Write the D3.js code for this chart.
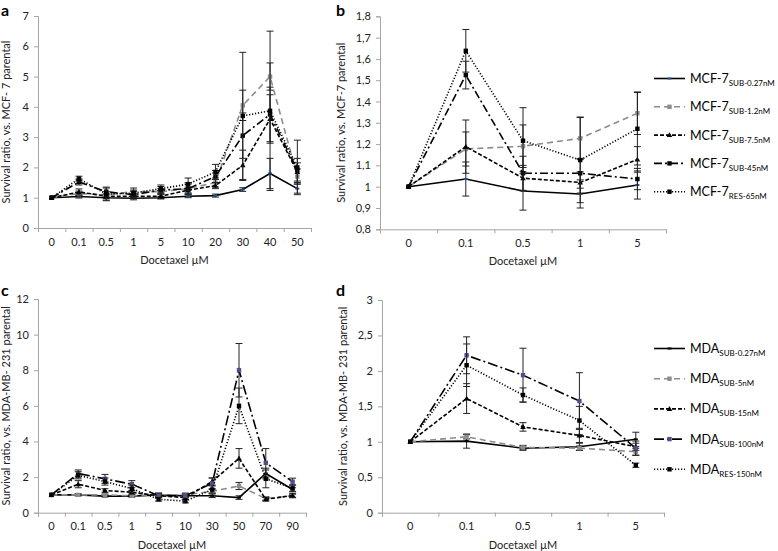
<!DOCTYPE html>
<html><head><meta charset="utf-8">
<script src="https://cdn.jsdelivr.net/npm/d3@7"></script>
<style>
body{margin:0;background:#fff;}
svg{display:block;}
text{font-family:Lato,"Open Sans",sans-serif;}
</style></head>
<body><svg id="chart" width="778" height="551"></svg>
<script>
// ---------- DATA ----------
const catsA = ["0","0.1","0.5","1","5","10","20","30","40","50"];
const catsB = ["0","0.1","0.5","1","5"];
const catsC = ["0","0.1","0.5","1","5","10","30","50","70","90"];
const catsD = ["0","0.1","0.5","1","5"];

const namesMCF = ["SUB-0.27nM","SUB-1.2nM","SUB-7.5nM","SUB-45nM","RES-65nM"];
const namesMDA = ["SUB-0.27nM","SUB-5nM","SUB-15nM","SUB-100nM","RES-150nM"];

const yTicksA = [0,1,2,3,4,5,6,7];
const yTicksB = [0.8,0.9,1.0,1.1,1.2,1.3,1.4,1.5,1.6,1.7,1.8];
const yTicksC = [0,2,4,6,8,10,12];
const yTicksD = [0,0.5,1,1.5,2,2.5,3];

// panel a (MCF-7, 0-50 µM)
const aSub027 = [1,1.04,1.0,0.98,1.0,1.05,1.07,1.27,1.8,1.3];
const aErr027 = [0,0.05,0.1,0.05,0.04,0.05,0.05,0.06,0.5,0.15];
const aSub12  = [1,1.14,1.1,1.2,1.2,1.3,1.5,4.05,5.0,1.7];
const aErr12  = [0,0.08,0.1,0.12,0.1,0.15,0.15,0.5,0.45,0.25];
const aSub75  = [1,1.19,1.05,1.05,1.05,1.25,1.4,2.07,3.6,1.85];
const aErr75  = [0,0.1,0.08,0.08,0.08,0.1,0.1,0.5,0.8,0.3];
const aSub45  = [1,1.52,1.2,1.1,1.25,1.3,1.7,3.05,3.75,1.9];
const aErr45  = [0,0.1,0.15,0.1,0.12,0.2,0.2,0.75,0.9,0.4];
const aRes65  = [1,1.63,1.12,1.15,1.3,1.45,1.85,3.7,3.87,2.0];
const aErr65  = [0,0.08,0.2,0.1,0.12,0.2,0.25,2.1,2.63,0.9];

// panel b (MCF-7, 0-5 µM)
const bSub027 = [1,1.036,0.98,0.966,1.008];
const bErr027 = [0,0.08,0.09,0.066,0.066];
const bSub12  = [1,1.177,1.19,1.227,1.345];
const bErr12  = [0,0.08,0.1,0.1,0.1];
const bSub75  = [1,1.188,1.04,1.02,1.128];
const bErr75  = [0,0.125,0.06,0.05,0.06];
const bSub45  = [1,1.524,1.063,1.063,1.036];
const bErr45  = [0,0.065,0.08,0.07,0.05];
const bRes65  = [1,1.638,1.216,1.125,1.272];
const bErr65  = [0,0.1,0.155,0.2,0.17];

// panel c (MDA-MB-231, 0-90 µM)
const cSub027 = [1,1.0,0.93,0.93,1.0,0.95,0.95,0.85,2.2,1.3];
const cErr027 = [0,0.05,0.05,0.05,0.1,0.1,0.1,0.1,0.3,0.1];
const cSub5   = [1,1.0,1.0,0.95,1.0,1.0,1.2,1.5,0.8,0.94];
const cErr5   = [0,0.05,0.05,0.05,0.1,0.1,0.1,0.2,0.1,0.1];
const cSub15  = [1,1.6,1.25,1.15,0.95,0.85,1.75,3.05,0.75,0.97];
const cErr15  = [0,0.2,0.1,0.1,0.1,0.1,0.2,0.55,0.1,0.1];
const cSub100 = [1,2.2,1.9,1.6,0.95,0.95,1.65,8.0,2.8,1.74];
const cErr100 = [0,0.2,0.25,0.2,0.1,0.1,0.3,1.5,0.8,0.2];
const cRes150 = [1,2.1,1.75,1.35,0.75,0.65,1.3,6.0,1.9,1.37];
const cErr150 = [0,0.2,0.2,0.2,0.1,0.1,0.2,1.0,0.5,0.2];

// panel d (MDA-MB-231, 0-5 µM)
const dSub027 = [1,1.01,0.91,0.93,1.035];
const dErr027 = [0,0.1,0.03,0.05,0.1];
const dSub5   = [1,1.07,0.92,0.91,0.86];
const dErr5   = [0,0.03,0.03,0.03,0.05];
const dSub15  = [1,1.61,1.21,1.09,0.93];
const dErr15  = [0,0.21,0.06,0.1,0.05];
const dSub100 = [1,2.22,1.94,1.575,0.91];
const dErr100 = [0,0.26,0.38,0.4,0.1];
const dRes150 = [1,2.08,1.66,1.30,0.67];
const dErr150 = [0,0.3,0.1,0.2,0.03];

// ---------- STYLES ----------
const stylesMCF = [
  {color:"#000", dash:null, marker:"dash", mcolor:"#2a4f8a"},
  {color:"#8c8c8c", dash:"6,4", marker:"square", mcolor:"#8c8c8c"},
  {color:"#000", dash:"4,2", marker:"triangle", mcolor:"#000"},
  {color:"#000", dash:"8,3,2,3", marker:"square", mcolor:"#000"},
  {color:"#000", dash:"1.2,1.8", marker:"square", mcolor:"#000"}
];
const stylesMDA = [
  {color:"#000", dash:null, marker:"dash", mcolor:"#000"},
  {color:"#8c8c8c", dash:"6,4", marker:"square", mcolor:"#8c8c8c"},
  {color:"#000", dash:"4,2", marker:"triangle", mcolor:"#000"},
  {color:"#000", dash:"10,3,2,3", marker:"square", mcolor:"#5b4a8c"},
  {color:"#000", dash:"1.2,1.8", marker:"square", mcolor:"#000"}
];

const svg = d3.select("#chart");

function drawMarker(g, type, x, y, col){
  if(type==="square"){
    g.append("rect").attr("x",x-2.2).attr("y",y-2.2).attr("width",4.4).attr("height",4.4).attr("fill",col);
  } else if(type==="triangle"){
    g.append("path").attr("d",`M${x},${y-2.8}L${x+2.8},${y+2}L${x-2.8},${y+2}Z`).attr("fill",col);
  } else {
    g.append("rect").attr("x",x-2).attr("y",y-1).attr("width",4).attr("height",2).attr("fill",col);
  }
}

function panel(o){
  const g = svg.append("g");
  const x = d3.scaleBand().domain(o.cats).range([o.x0,o.x1]).padding(0);
  const xi = d3.scaleLinear().domain([0,o.cats.length]).range([o.x0,o.x1]);
  const y = d3.scaleLinear().domain([o.ticks[0],o.ticks[o.ticks.length-1]]).range([o.y1,o.y0]);

  const ya = g.append("g").attr("transform",`translate(${o.x0},0)`)
    .call(d3.axisLeft(y).tickValues(o.ticks).tickSize(4).tickPadding(5)
      .tickFormat(o.fmt || (d=>String(d))));
  ya.select(".domain").attr("stroke","#a6a6a6");
  ya.selectAll(".tick line").attr("stroke","#a6a6a6");
  ya.selectAll("text").attr("font-size",11).attr("fill","#222").attr("font-family","Lato");

  const xt = g.append("g").attr("transform",`translate(0,${o.y1})`)
    .call(d3.axisBottom(xi).tickValues(d3.range(o.cats.length+1)).tickSize(4).tickFormat(""));
  xt.select(".domain").attr("stroke","#a6a6a6");
  xt.selectAll(".tick line").attr("stroke","#a6a6a6");
  const xl = g.append("g").attr("transform",`translate(0,${o.y1})`)
    .call(d3.axisBottom(x).tickSize(0).tickPadding(10));
  xl.select(".domain").remove();
  xl.selectAll("text").attr("font-size",11).attr("fill","#222").attr("font-family","Lato");

  g.append("text").attr("x",(o.x0+o.x1)/2).attr("y",o.y1+36).attr("text-anchor","middle")
    .attr("font-size",11).attr("fill","#222").text("Docetaxel µM");
  g.append("text").attr("transform",`translate(${o.x0-o.ytOff},${(o.y0+o.y1)/2}) rotate(-90)`)
    .attr("text-anchor","middle").attr("font-size",11).attr("fill","#222").text(o.ytitle);
  g.append("text").attr("x",o.lx).attr("y",o.ly).attr("font-family","Liberation Sans, Arial")
    .attr("font-weight","bold").attr("font-size",16).attr("fill","#000").text(o.label);

  o.series.forEach((s,i)=>{
    const st = o.styles[i];
    const sg = g.append("g");
    s.v.forEach((v,j)=>{
      const e = s.e[j]; if(!e) return;
      const cx = x(o.cats[j])+x.bandwidth()/2;
      sg.append("line").attr("x1",cx).attr("x2",cx).attr("y1",y(v-e)).attr("y2",y(v+e))
        .attr("stroke","#222").attr("stroke-width",1);
      [v-e,v+e].forEach(w=>sg.append("line").attr("x1",cx-3.5).attr("x2",cx+3.5)
        .attr("y1",y(w)).attr("y2",y(w)).attr("stroke","#222").attr("stroke-width",1));
    });
    const line = d3.line().x((d,j)=>x(o.cats[j])+x.bandwidth()/2).y(d=>y(d));
    sg.append("path").attr("d",line(s.v)).attr("fill","none").attr("stroke",st.color)
      .attr("stroke-width",1.6).attr("stroke-dasharray",st.dash);
    s.v.forEach((v,j)=>drawMarker(sg,st.marker,x(o.cats[j])+x.bandwidth()/2,y(v),st.mcolor));
  });

  if(o.legend){
    o.names.forEach((n,i)=>{
      const st = o.styles[i];
      const ly = o.legend.y + i*o.legend.dy;
      g.append("line").attr("x1",o.legend.x).attr("x2",o.legend.x+31).attr("y1",ly).attr("y2",ly)
        .attr("stroke",st.color).attr("stroke-width",1.6).attr("stroke-dasharray",st.dash);
      drawMarker(g,st.marker,o.legend.x+15.5,ly,st.mcolor);
      const t = g.append("text").attr("x",o.legend.x+36).attr("y",ly+4.5).attr("font-size",12.5).attr("fill","#000");
      t.append("tspan").text(o.prefix);
      t.append("tspan").attr("font-size",8).attr("dy",3).text(n);
    });
  }
}

panel({cats:catsA,ticks:yTicksA,x0:38,x1:311,y0:16,y1:228,ytOff:28,label:"a",lx:1,ly:16,
  ytitle:"Survival ratio, vs. MCF- 7 parental",styles:stylesMCF,
  series:[{v:aSub027,e:aErr027},{v:aSub12,e:aErr12},{v:aSub75,e:aErr75},{v:aSub45,e:aErr45},{v:aRes65,e:aErr65}]});
panel({cats:catsB,ticks:yTicksB,x0:380,x1:666,y0:16.3,y1:229.3,ytOff:35,label:"b",lx:336,ly:16,
  fmt:d=>d3.format(".1f")(d).replace(".",",").replace(",0",""),
  ytitle:"Survival ratio, vs. MCF-7 parental",styles:stylesMCF,names:namesMCF,prefix:"MCF-7",
  legend:{x:654,y:78.5,dy:28.3},
  series:[{v:bSub027,e:bErr027},{v:bSub12,e:bErr12},{v:bSub75,e:bErr75},{v:bSub45,e:bErr45},{v:bRes65,e:bErr65}]});
panel({cats:catsC,ticks:yTicksC,x0:38,x1:306,y0:299,y1:512.7,ytOff:28,label:"c",lx:1,ly:296,
  ytitle:"Survival ratio, vs. MDA-MB- 231 parental",styles:stylesMDA,
  series:[{v:cSub027,e:cErr027},{v:cSub5,e:cErr5},{v:cSub15,e:cErr15},{v:cSub100,e:cErr100},{v:cRes150,e:cErr150}]});
panel({cats:catsD,ticks:yTicksD,x0:382,x1:664,y0:300,y1:512.7,ytOff:35,label:"d",lx:336,ly:296,
  fmt:d=>String(d).replace(".",","),
  ytitle:"Survival ratio, vs. MDA-MB- 231 parental",styles:stylesMDA,names:namesMDA,prefix:"MDA",
  legend:{x:654,y:348.5,dy:30.2},
  series:[{v:dSub027,e:dErr027},{v:dSub5,e:dErr5},{v:dSub15,e:dErr15},{v:dSub100,e:dErr100},{v:dRes150,e:dErr150}]});
</script></body></html>
